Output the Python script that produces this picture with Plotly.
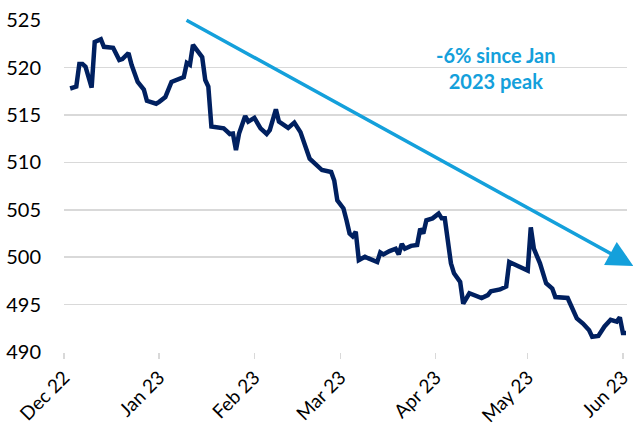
import plotly.graph_objects as go

dates = [
    "2022-12-03", "2022-12-05", "2022-12-06", "2022-12-07", "2022-12-08", "2022-12-10",
    "2022-12-11", "2022-12-13", "2022-12-14", "2022-12-17", "2022-12-19", "2022-12-20",
    "2022-12-22", "2022-12-23", "2022-12-25", "2022-12-27", "2022-12-28", "2022-12-31",
    "2023-01-01", "2023-01-03", "2023-01-05", "2023-01-07", "2023-01-09", "2023-01-10",
    "2023-01-11", "2023-01-12", "2023-01-13", "2023-01-15", "2023-01-16", "2023-01-17",
    "2023-01-18", "2023-01-22", "2023-01-23", "2023-01-24", "2023-01-25", "2023-01-26",
    "2023-01-27", "2023-01-29", "2023-01-30", "2023-02-01", "2023-02-03", "2023-02-05",
    "2023-02-06", "2023-02-08", "2023-02-09", "2023-02-12", "2023-02-14", "2023-02-16",
    "2023-02-19", "2023-02-20", "2023-02-22", "2023-02-23", "2023-02-26", "2023-02-27",
    "2023-02-28", "2023-03-02", "2023-03-03", "2023-03-04", "2023-03-05", "2023-03-06",
    "2023-03-07", "2023-03-09", "2023-03-10", "2023-03-13", "2023-03-14", "2023-03-15",
    "2023-03-17", "2023-03-19", "2023-03-20", "2023-03-21", "2023-03-22", "2023-03-24",
    "2023-03-26", "2023-03-27", "2023-03-28", "2023-03-29", "2023-03-31", "2023-04-02",
    "2023-04-03", "2023-04-04", "2023-04-06", "2023-04-07", "2023-04-09", "2023-04-10",
    "2023-04-12", "2023-04-14", "2023-04-16", "2023-04-18", "2023-04-19", "2023-04-22",
    "2023-04-24", "2023-04-25", "2023-04-26", "2023-05-01", "2023-05-02", "2023-05-03",
    "2023-05-05", "2023-05-07", "2023-05-09", "2023-05-10", "2023-05-14", "2023-05-15",
    "2023-05-17", "2023-05-19", "2023-05-21", "2023-05-22", "2023-05-24", "2023-05-26",
    "2023-05-28", "2023-05-30", "2023-05-31", "2023-06-01", "2023-06-02",
]

values = [
    517.8, 518.0, 520.4, 520.4, 520.1, 517.9,
    522.7, 523.0, 522.2, 522.1, 520.8, 520.9,
    521.55, 520.3, 518.5, 517.7, 516.5, 516.2,
    516.4, 516.9, 518.5, 518.75, 519.0, 520.5,
    520.3, 522.4, 521.9, 521.1, 518.7, 518.0,
    513.8, 513.6, 513.3, 513.0, 513.05, 511.3,
    513.05, 514.9, 514.3, 514.7, 513.6, 513.0,
    513.4, 515.6, 514.3, 513.65, 514.2, 513.2,
    510.4, 510.1, 509.6, 509.2, 509.0, 508.1,
    506.0, 505.15, 503.9, 502.5, 502.2, 502.7,
    499.7, 500.05, 499.9, 499.5, 500.5, 500.3,
    500.65, 500.9, 500.3, 501.4, 500.9, 501.2,
    501.3, 503.0, 502.5, 503.9, 504.1, 504.6,
    504.1, 504.1, 499.35, 498.3, 497.4, 495.1,
    496.2, 495.9, 495.7, 496.0, 496.4, 496.6,
    496.9, 499.5, 499.35, 498.6, 503.15, 500.9,
    499.35, 497.25, 496.7, 495.8, 495.7, 494.95,
    493.55, 493.0, 492.3, 491.6, 491.7, 492.7,
    493.4, 493.2, 493.65, 492.0, 492.0,
]

tick_dates = ["2022-12-01", "2023-01-01", "2023-02-01", "2023-03-01",
              "2023-04-01", "2023-05-01", "2023-06-01"]
tick_labels = ["Dec 22", "Jan 23", "Feb 23", "Mar 23", "Apr 23", "May 23", "Jun 23"]
y_ticks = [490, 495, 500, 505, 510, 515, 520, 525]

trend_start = ("2023-01-09 10:00", 525.1)
trend_end = ("2023-06-04 10:00", 499.07)
trend_text = "<b>-6% since Jan<br>2023 peak</b>"

NAVY = "#002060"
BLUE = "#14A0DB"
GRID = "#D9D9D9"
FONT = "Lato"

fig = go.Figure()
fig.add_trace(go.Scatter(
    x=dates, y=values, mode="lines",
    line=dict(color=NAVY, width=4.5, shape="linear"),
    hoverinfo="skip", showlegend=False,
))

fig.add_annotation(
    x=trend_end[0], y=trend_end[1], xref="x", yref="y",
    ax=trend_start[0], ay=trend_start[1], axref="x", ayref="y",
    showarrow=True, arrowhead=2, arrowsize=1.5, arrowwidth=3.5,
    arrowcolor=BLUE, text="", standoff=0, startstandoff=0,
)
fig.add_annotation(
    x=0.767, y=0.855, xref="paper", yref="paper",
    xanchor="center", yanchor="middle",
    text=trend_text, showarrow=False, align="center",
    font=dict(family=FONT, size=20, color=BLUE),
)

fig.update_layout(
    width=633, height=432,
    margin=dict(l=64, r=6, t=20, b=80, autoexpand=False),
    paper_bgcolor="white", plot_bgcolor="white",
    font=dict(family=FONT, size=20, color="#000000"),
    showlegend=False,
)
fig.update_xaxes(
    type="date", automargin=False,
    range=["2022-12-01", "2023-06-02 08:00"],
    tickvals=tick_dates, ticktext=tick_labels,
    tickangle=-45, ticks="outside", ticklen=6, tickcolor=GRID, tickwidth=1.5,
    showline=False, showgrid=False, zeroline=False,
    tickfont=dict(family=FONT, size=19, color="#000000"),
)
fig.update_yaxes(
    range=[490, 525.03], tickvals=y_ticks, automargin=False,
    showgrid=True, gridcolor=GRID, gridwidth=1.5,
    showline=False, zeroline=False, ticks="",
    ticklabelstandoff=22,
    tickfont=dict(family=FONT, size=20, color="#000000"),
)

# remove the browser's default 8px page margin so the chart fills the window
fig.write_html(
    "out.html",
    config={"displayModeBar": False, "staticPlot": True},
    post_script="document.body.style.margin='0';",
)
